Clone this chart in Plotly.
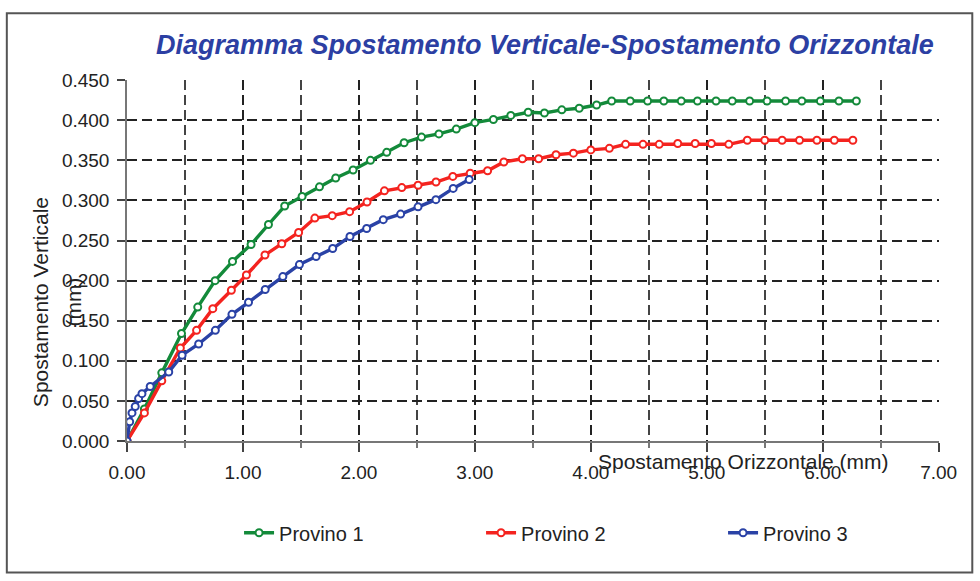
import plotly.graph_objects as go

# Provino 1
x1 = [0.0, 0.15, 0.30, 0.47, 0.61, 0.76, 0.91, 1.07, 1.22, 1.36, 1.51, 1.66, 1.80, 1.95,
      2.10, 2.24, 2.39, 2.54, 2.69, 2.84, 3.00, 3.16, 3.31, 3.46, 3.60, 3.75, 3.90, 4.05,
      4.18, 4.34, 4.49, 4.63, 4.78, 4.92, 5.08, 5.22, 5.37, 5.52, 5.68, 5.82, 5.98, 6.14, 6.29]
y1 = [0.000, 0.040, 0.085, 0.134, 0.167, 0.200, 0.224, 0.245, 0.270, 0.293, 0.305, 0.317,
      0.328, 0.338, 0.350, 0.360, 0.372, 0.379, 0.383, 0.389, 0.397, 0.401, 0.406, 0.410,
      0.409, 0.413, 0.415, 0.419, 0.424, 0.424, 0.424, 0.424, 0.424, 0.424, 0.424, 0.424,
      0.424, 0.424, 0.424, 0.424, 0.424, 0.424, 0.424]

# Provino 2
x2 = [0.0, 0.15, 0.30, 0.46, 0.60, 0.74, 0.90, 1.03, 1.19, 1.335, 1.48, 1.62, 1.77, 1.92,
      2.07, 2.22, 2.37, 2.51, 2.665, 2.81, 2.96, 3.11, 3.25, 3.41, 3.55, 3.70, 3.85, 4.00,
      4.16, 4.30, 4.45, 4.59, 4.75, 4.90, 5.04, 5.19, 5.35, 5.50, 5.65, 5.80, 5.95, 6.10, 6.26]
y2 = [0.000, 0.035, 0.075, 0.116, 0.138, 0.165, 0.188, 0.207, 0.232, 0.246, 0.260, 0.278,
      0.281, 0.286, 0.298, 0.312, 0.316, 0.319, 0.323, 0.330, 0.334, 0.337, 0.348, 0.352,
      0.352, 0.357, 0.359, 0.363, 0.365, 0.370, 0.370, 0.370, 0.371, 0.371, 0.371, 0.370,
      0.375, 0.375, 0.375, 0.375, 0.375, 0.375, 0.375]

# Provino 3
x3 = [0.0, 0.023, 0.043, 0.071, 0.10, 0.129, 0.20, 0.36, 0.475, 0.618, 0.762, 0.905, 1.048,
      1.192, 1.344, 1.487, 1.631, 1.774, 1.923, 2.067, 2.21, 2.36, 2.51, 2.664, 2.813, 2.951]
y3 = [0.000, 0.024, 0.035, 0.043, 0.053, 0.059, 0.068, 0.086, 0.107, 0.121, 0.138, 0.158,
      0.173, 0.189, 0.205, 0.220, 0.230, 0.240, 0.255, 0.265, 0.276, 0.283, 0.292, 0.301,
      0.315, 0.326]

series = [
    ("Provino 1", x1, y1, "#138a3a"),
    ("Provino 2", x2, y2, "#f4231f"),
    ("Provino 3", x3, y3, "#2a42a6"),
]

fig = go.Figure()
for name, xs, ys, col in series:
    fig.add_trace(go.Scatter(
        x=xs, y=ys, name=name, mode="lines+markers",
        line=dict(color=col, width=3.4),
        marker=dict(symbol="circle", size=7, color="white",
                    line=dict(color=col, width=2)),
    ))

FONT = "Arial, Liberation Sans, sans-serif"
grid_col = "#222"
grid_dash = "10px,5px"
tick_font = dict(family=FONT, size=19, color="#222")

fig.update_layout(
    width=980, height=581,
    margin=dict(l=127, r=41, t=80, b=140),
    paper_bgcolor="white", plot_bgcolor="white",
    showlegend=True,
    legend=dict(orientation="h", x=0.138, y=-0.2, xanchor="left", yanchor="top",
                entrywidth=197, entrywidthmode="pixels",
                font=dict(family=FONT, size=20, color="#222"),
                bgcolor="rgba(0,0,0,0)"),
    # ranges nudged a hair past 7 / 0.45 so the edge grid lines are still drawn
    xaxis=dict(range=[0, 7.003], dtick=1, tick0=0, tickformat=".2f",
               showgrid=True, gridcolor=grid_col, griddash=grid_dash, gridwidth=1.6,
               zeroline=False, showline=True, linecolor="#777", linewidth=1.5,
               ticks="outside", ticklen=9, tickcolor="#444", tickwidth=1.5,
               ticklabelstandoff=4, tickfont=tick_font,
               minor=dict(dtick=0.5, showgrid=True, gridcolor="#444", griddash=grid_dash,
                          gridwidth=1.6, ticks="outside", ticklen=5, tickcolor="#777")),
    yaxis=dict(range=[0, 0.4502], dtick=0.05, tick0=0, tickformat=".3f",
               showgrid=True, gridcolor=grid_col, griddash=grid_dash, gridwidth=1.6,
               zeroline=False, showline=True, linecolor="#777", linewidth=1.5,
               ticks="outside", ticklen=8, tickcolor="#444", tickwidth=1.5,
               ticklabelstandoff=4, tickfont=tick_font),
    title=dict(text="<b><i>Diagramma Spostamento Verticale-Spostamento Orizzontale</i></b>",
               x=0.556, xanchor="center", y=0.924, yanchor="middle",
               font=dict(family=FONT, size=27, color="#2c3fa3")),
)

ann_font = dict(family=FONT, size=21, color="#222")
fig.add_annotation(text="Spostamento Orizzontale (mm)", xref="paper", yref="paper",
                   x=0.759, y=-0.058, xanchor="center", yanchor="middle",
                   showarrow=False, font=ann_font)
fig.add_annotation(text="Spostamento Verticale", xref="paper", yref="paper",
                   x=-0.107, y=0.385, xanchor="center", yanchor="middle", textangle=-90,
                   showarrow=False, font=ann_font)
fig.add_annotation(text="(mm)", xref="paper", yref="paper",
                   x=-0.067, y=0.385, xanchor="center", yanchor="middle", textangle=-90,
                   showarrow=False, font=ann_font)

# outer chart frame
fig.add_shape(type="rect", xref="paper", yref="paper",
              x0=-0.148, x1=1.041, y0=-0.364, y1=1.185,
              line=dict(color="#555", width=2), fillcolor="rgba(0,0,0,0)", layer="below")

fig.write_html("out.html")
